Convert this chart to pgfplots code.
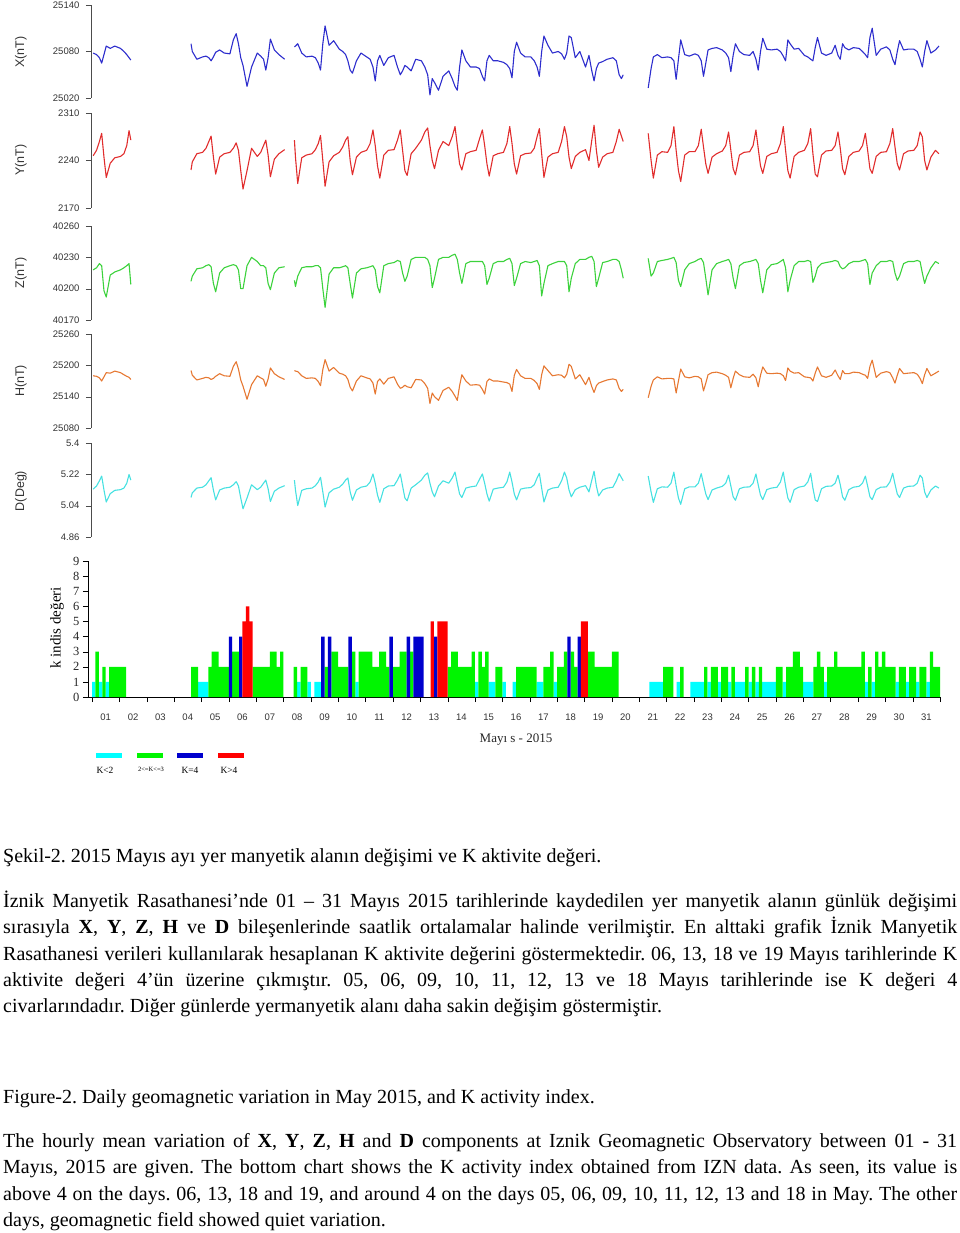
\documentclass[border=0pt]{standalone}
\usepackage{fontspec}
\setmainfont{Liberation Serif}
\newfontfamily\arial{Liberation Sans}
\usepackage{pgfplots}
\usepackage{pgfplotstable}
\pgfplotsset{compat=1.18}
\frenchspacing

\definecolor{xcol}{RGB}{45,45,205}
\definecolor{ycol}{RGB}{225,45,45}
\definecolor{zcol}{RGB}{60,210,60}
\definecolor{hcol}{RGB}{230,120,50}
\definecolor{dcol}{RGB}{70,225,225}
\definecolor{kcyan}{RGB}{0,255,255}
\definecolor{kgreen}{RGB}{0,245,0}
\definecolor{kblue}{RGB}{0,0,205}
\definecolor{kred}{RGB}{255,0,0}

% hourly means, sampled at a few hours per day (t in days from 1 May 00 UT)
\pgfplotstableread{
t X Y Z H D
0.042 25078 2247 40218 25180 5.135
0.167 25076 2255 40220 25179 5.153
0.271 25072 2268 40224 25176 5.183
0.354 25065 2280 40222 25170 5.210
0.438 25076 2245 40198 25178 5.130
0.521 25087 2215 40192 25186 5.061
0.667 25084 2236 40213 25185 5.109
0.833 25087 2244 40216 25189 5.128
1.042 25084 2246 40218 25186 5.132
1.167 25080 2250 40220 25182 5.141
1.271 25076 2262 40222 25179 5.169
1.354 25072 2284 40224 25177 5.219
1.420 25069 2270 40204 25173 5.187
2.000 nan nan nan nan nan
3.620 25090 2226 40207 25190 5.087
3.667 25080 2238 40212 25181 5.114
3.833 25070 2250 40219 25172 5.141
4.042 25073 2252 40220 25175 5.146
4.167 25074 2258 40222 25177 5.160
4.271 25072 2268 40223 25176 5.183
4.354 25068 2276 40221 25173 5.201
4.438 25073 2245 40205 25175 5.130
4.521 25079 2220 40197 25179 5.073
4.667 25082 2245 40215 25184 5.130
4.833 25078 2250 40220 25180 5.141
5.042 25077 2252 40222 25179 5.146
5.167 25095 2258 40223 25198 5.160
5.271 25103 2266 40222 25207 5.178
5.354 25090 2255 40218 25193 5.153
5.438 25072 2225 40200 25172 5.084
5.521 25062 2198 40200 25160 5.022
5.667 25035 2225 40222 25135 5.084
5.833 25060 2258 40230 25163 5.160
6.042 25078 2246 40226 25180 5.132
6.167 25074 2252 40222 25176 5.146
6.271 25070 2262 40222 25173 5.169
6.354 25056 2270 40220 25160 5.187
6.438 25072 2248 40205 25174 5.137
6.521 25096 2216 40199 25195 5.064
6.667 25082 2242 40215 25184 5.123
6.833 25076 2250 40220 25178 5.141
7.042 25070 2256 40221 25173 5.155
7.200 nan nan nan nan nan
7.400 25086 2270 40208 25190 5.187
7.438 25087 2245 40202 25189 5.130
7.521 25090 2206 40212 25188 5.041
7.667 25078 2244 40220 25180 5.128
7.833 25073 2248 40221 25175 5.137
8.042 25074 2250 40221 25176 5.141
8.167 25072 2256 40222 25175 5.155
8.271 25065 2265 40222 25169 5.176
8.354 25056 2277 40220 25161 5.203
8.438 25090 2240 40200 25192 5.119
8.521 25113 2202 40182 25211 5.032
8.667 25088 2238 40214 25189 5.114
8.833 25094 2247 40220 25196 5.135
9.042 25083 2252 40220 25185 5.146
9.167 25080 2260 40221 25183 5.164
9.271 25076 2270 40222 25180 5.187
9.354 25068 2275 40220 25173 5.199
9.438 25056 2240 40205 25158 5.119
9.521 25052 2219 40191 25151 5.071
9.667 25068 2245 40215 25170 5.130
9.833 25078 2252 40219 25180 5.146
10.042 25073 2255 40220 25176 5.153
10.167 25070 2265 40221 25174 5.176
10.271 25060 2285 40222 25166 5.222
10.354 25042 2262 40218 25145 5.169
10.438 25068 2232 40202 25169 5.100
10.521 25075 2214 40196 25174 5.059
10.667 25062 2248 40222 25164 5.137
10.833 25072 2255 40224 25175 5.153
11.042 25075 2256 40225 25178 5.155
11.167 25060 2270 40227 25164 5.187
11.271 25050 2285 40226 25156 5.222
11.354 25055 2255 40215 25158 5.153
11.438 25062 2225 40207 25162 5.084
11.521 25060 2218 40212 25159 5.068
11.667 25055 2250 40228 25157 5.141
11.833 25070 2258 40230 25173 5.160
12.042 25068 2270 40230 25172 5.187
12.167 25060 2282 40230 25165 5.215
12.271 25050 2288 40228 25156 5.228
12.354 25024 2262 40222 25127 5.169
12.438 25045 2240 40201 25147 5.119
12.521 25040 2228 40210 25140 5.091
12.667 25030 2255 40228 25133 5.153
12.833 25048 2268 40230 25152 5.183
13.042 25055 2262 40230 25158 5.169
13.167 25045 2275 40232 25150 5.199
13.271 25035 2290 40233 25141 5.233
13.354 25030 2262 40228 25133 5.169
13.438 25060 2235 40215 25161 5.107
13.521 25082 2226 40205 25182 5.087
13.667 25068 2250 40224 25170 5.141
13.833 25060 2253 40226 25162 5.148
14.042 25060 2255 40226 25163 5.153
14.167 25058 2272 40226 25162 5.192
14.271 25048 2285 40226 25154 5.222
14.354 25042 2262 40222 25145 5.169
14.438 25068 2235 40204 25169 5.107
14.521 25075 2217 40210 25174 5.066
14.667 25068 2247 40224 25170 5.135
14.833 25068 2250 40226 25170 5.141
15.042 25066 2252 40226 25168 5.146
15.167 25063 2265 40228 25167 5.176
15.271 25058 2290 40229 25164 5.233
15.354 25046 2265 40224 25150 5.176
15.438 25080 2235 40203 25181 5.107
15.521 25092 2220 40210 25192 5.073
15.667 25078 2247 40224 25180 5.135
15.833 25073 2250 40226 25175 5.141
16.042 25073 2251 40225 25175 5.144
16.167 25068 2258 40226 25171 5.160
16.271 25060 2275 40227 25165 5.199
16.354 25048 2287 40222 25154 5.226
16.438 25080 2250 40193 25182 5.141
16.521 25100 2215 40205 25199 5.061
16.667 25088 2245 40222 25190 5.130
16.833 25078 2250 40224 25180 5.141
17.042 25080 2252 40226 25182 5.146
17.167 25077 2268 40226 25181 5.183
17.271 25070 2290 40226 25176 5.233
17.354 25078 2275 40222 25183 5.199
17.438 25100 2245 40197 25202 5.130
17.521 25098 2228 40210 25198 5.091
17.667 25072 2246 40224 25174 5.132
17.833 25080 2252 40228 25182 5.146
18.042 25060 2256 40228 25163 5.155
18.167 25075 2240 40230 25177 5.119
18.271 25055 2270 40231 25159 5.187
18.354 25042 2292 40226 25148 5.238
18.438 25058 2255 40202 25161 5.153
18.521 25065 2230 40210 25166 5.096
18.667 25067 2245 40225 25169 5.130
18.833 25070 2250 40226 25172 5.141
19.042 25072 2252 40228 25174 5.146
19.167 25068 2268 40228 25172 5.183
19.271 25050 2286 40226 25156 5.224
19.354 25045 2276 40218 25150 5.201
19.420 25050 2268 40210 25154 5.183
20.000 nan nan nan nan nan
20.333 25033 2280 40229 25138 5.210
20.438 25058 2240 40212 25160 5.119
20.521 25073 2214 40215 25172 5.059
20.667 25076 2248 40226 25178 5.137
20.833 25072 2253 40227 25174 5.148
21.042 25073 2252 40228 25175 5.146
21.167 25072 2262 40229 25175 5.169
21.271 25068 2290 40230 25174 5.233
21.354 25044 2255 40225 25147 5.153
21.438 25070 2225 40208 25170 5.084
21.521 25095 2209 40202 25193 5.048
21.667 25076 2248 40218 25178 5.137
21.833 25074 2253 40224 25176 5.148
22.042 25077 2253 40226 25179 5.148
22.167 25075 2262 40228 25178 5.169
22.271 25068 2286 40229 25174 5.224
22.354 25048 2260 40225 25151 5.164
22.438 25065 2235 40210 25166 5.107
22.521 25082 2221 40194 25182 5.075
22.667 25084 2245 40218 25186 5.130
22.833 25085 2250 40224 25187 5.141
23.042 25082 2254 40226 25184 5.151
23.167 25078 2262 40227 25181 5.169
23.271 25072 2282 40228 25177 5.215
23.354 25054 2255 40224 25157 5.153
23.438 25075 2228 40210 25175 5.091
23.521 25090 2219 40200 25189 5.071
23.667 25080 2248 40222 25182 5.137
23.833 25076 2252 40225 25178 5.146
24.042 25075 2253 40226 25177 5.148
24.167 25080 2262 40227 25183 5.169
24.271 25070 2285 40228 25176 5.222
24.354 25056 2258 40224 25159 5.160
24.438 25080 2232 40208 25181 5.100
24.521 25097 2221 40196 25197 5.075
24.667 25083 2246 40218 25185 5.132
24.833 25082 2250 40223 25184 5.141
25.042 25083 2252 40224 25185 5.146
25.167 25080 2265 40226 25184 5.176
25.271 25074 2290 40228 25180 5.233
25.354 25068 2255 40220 25171 5.153
25.438 25095 2225 40197 25195 5.084
25.521 25090 2214 40208 25189 5.059
25.667 25083 2246 40222 25185 5.132
25.833 25084 2252 40226 25186 5.146
26.042 25075 2255 40226 25178 5.153
26.167 25073 2265 40227 25177 5.176
26.271 25070 2287 40226 25176 5.226
26.354 25068 2250 40206 25170 5.141
26.438 25085 2220 40212 25185 5.073
26.521 25098 2216 40220 25197 5.064
26.667 25078 2248 40224 25180 5.137
26.833 25075 2254 40225 25177 5.151
27.042 25078 2255 40226 25181 5.153
27.167 25088 2262 40227 25191 5.169
27.271 25075 2282 40226 25180 5.215
27.354 25070 2258 40221 25173 5.160
27.438 25090 2228 40219 25190 5.091
27.521 25085 2219 40220 25184 5.071
27.667 25082 2246 40224 25184 5.132
27.833 25085 2252 40226 25187 5.146
28.042 25084 2254 40226 25186 5.151
28.167 25080 2262 40227 25183 5.169
28.271 25076 2280 40228 25181 5.210
28.354 25072 2255 40224 25175 5.153
28.438 25098 2228 40204 25198 5.091
28.521 25110 2221 40215 25210 5.075
28.667 25075 2246 40222 25177 5.132
28.833 25083 2252 40226 25185 5.146
29.042 25086 2253 40226 25188 5.148
29.167 25082 2265 40227 25186 5.176
29.271 25070 2287 40226 25176 5.226
29.354 25063 2260 40215 25166 5.164
29.438 25080 2235 40208 25181 5.107
29.521 25094 2226 40212 25194 5.087
29.667 25082 2250 40224 25184 5.141
29.833 25083 2254 40226 25185 5.151
30.042 25083 2255 40226 25186 5.153
30.167 25080 2262 40227 25183 5.169
30.271 25070 2282 40226 25175 5.215
30.354 25060 2275 40215 25165 5.199
30.438 25080 2240 40205 25182 5.119
30.521 25094 2226 40212 25194 5.087
30.667 25078 2245 40220 25180 5.130
30.833 25082 2255 40226 25185 5.153
30.960 25087 2250 40224 25189 5.141
}\magdata

\pgfplotsset{
  magpanel/.style={
    scale only axis, width=849.1pt, xmin=-0.04, xmax=31,
    anchor=south west,
    axis x line=none, axis y line*=left,
    axis line style={-, black!70},
    tick align=outside, major tick length=5pt,
    ytick style={black!70},
    scaled y ticks=false,
    yticklabel style={font=\arial\fontsize{9.5}{9.5}\selectfont, text=black!80, xshift=-3pt},
    unbounded coords=jump, clip=false,
  },
  magline/.style={line width=1.1pt, line join=round},
}
\newcommand\bodyfont{\fontsize{20}{24}\selectfont}
\newcommand\panellabel{\arial\fontsize{12.5}{12.5}\selectfont}

\begin{document}
\begin{tikzpicture}[x=1pt,y=1pt]
\path[use as bounding box] (0,0) rectangle (960,-1233);

% X
\begin{axis}[magpanel, height=93pt, at={(90.9pt,-98pt)},
  ymin=25020, ymax=25140, ytick={25020,25080,25140}, yticklabels={25020,25080,25140}]
\addplot[magline, xcol] table[x=t, y=X] {\magdata};
\end{axis}
% Y
\begin{axis}[magpanel, height=95pt, at={(90.9pt,-208pt)},
  ymin=2170, ymax=2310, ytick={2170,2240,2310}, yticklabels={2170,2240,2310}]
\addplot[magline, ycol] table[x=t, y=Y] {\magdata};
\end{axis}
% Z
\begin{axis}[magpanel, height=94pt, at={(90.9pt,-320pt)},
  ymin=40170, ymax=40260, ytick={40170,40200,40230,40260}, yticklabels={40170,40200,40230,40260}]
\addplot[magline, zcol] table[x=t, y=Z] {\magdata};
\end{axis}
% H
\begin{axis}[magpanel, height=94pt, at={(90.9pt,-428pt)},
  ymin=25080, ymax=25260, ytick={25080,25140,25200,25260}, yticklabels={25080,25140,25200,25260}]
\addplot[magline, hcol] table[x=t, y=H] {\magdata};
\end{axis}
% D
\begin{axis}[magpanel, height=94pt, at={(90.9pt,-537pt)},
  ymin=4.86, ymax=5.4, ytick={4.86,5.04,5.22,5.4}, yticklabels={4.86,5.04,5.22,5.4}]
\addplot[magline, dcol] table[x=t, y=D] {\magdata};
\end{axis}

\node[rotate=90, font=\panellabel, text=black!80] at (21,-52) {X(nT)};
\node[rotate=90, font=\panellabel, text=black!80] at (21,-160) {Y(nT)};
\node[rotate=90, font=\panellabel, text=black!80] at (21,-273) {Z(nT)};
\node[rotate=90, font=\panellabel, text=black!80] at (21,-381) {H(nT)};
\node[rotate=90, font=\panellabel, text=black!80] at (21,-491) {D(Deg)};

% K index, 8 three-hour bars per day (x = bar number)
\begin{axis}[
  scale only axis, width=852.1pt, height=136pt, at={(87.9pt,-697pt)}, anchor=south west,
  xmin=-1.2, xmax=248, ymin=0, ymax=9,
  axis x line*=bottom, axis y line*=left, axis line style={-, black},
  ybar, bar width=1, bar shift=0pt,
  tick align=outside, major tick length=5pt, tick style={black},
  ytick={0,...,9}, yticklabels={0,1,2,3,4,5,6,7,8,9},
  yticklabel style={font=\fontsize{12.5}{12.5}\selectfont, text=black!85},
  xtick={0,8,...,240},
  xticklabels={01,02,03,04,05,06,07,08,09,10,11,12,13,14,15,16,17,18,19,20,21,22,23,24,25,26,27,28,29,30,31},
  xticklabel style={font=\arial\fontsize{9.5}{9.5}\selectfont, text=black!80, xshift=13.7pt, yshift=-8pt},
  extra x ticks={248}, extra x tick labels={},
  clip=false,
]
\addplot[fill=kcyan, draw=none] coordinates {
(0.5,1) (2.5,1) (4.5,1) (31.5,1) (32.5,1) (33.5,1) (60.5,1) (63.5,1) (65.5,1) (66.5,1)
(77.5,1) (112.5,1) (116.5,1) (117.5,1) (120.5,1) (123.5,1) (130.5,1) (131.5,1) (135.5,1)
(163.5,1) (164.5,1) (165.5,1) (166.5,1) (171.5,1) (175.5,1) (176.5,1) (177.5,1) (178.5,1)
(180.5,1) (183.5,1) (186.5,1) (188.5,1) (189.5,1) (190.5,1) (192.5,1) (194.5,1) (196.5,1)
(197.5,1) (198.5,1) (199.5,1) (202.5,1) (208.5,1) (209.5,1) (210.5,1) (214.5,1) (226.5,1)
(228.5,1) (235.5,1) (238.5,1) (241.5,1) (244.5,1)
};
\addplot[fill=kgreen, draw=none] coordinates {
(1.5,3) (3.5,2) (5.5,2) (6.5,2) (7.5,2) (8.5,2) (9.5,2)
(29.5,2) (30.5,2) (34.5,2) (35.5,3) (36.5,3) (37.5,2) (38.5,2) (39.5,2)
(41.5,3) (42.5,3) (47.5,2) (48.5,2) (49.5,2) (50.5,2) (51.5,2) (52.5,3) (53.5,3) (54.5,2) (55.5,3)
(59.5,2) (61.5,2) (62.5,2) (68.5,2) (70.5,3) (71.5,3) (72.5,2) (73.5,2) (74.5,2) (76.5,3)
(78.5,3) (79.5,3) (80.5,3) (81.5,3) (82.5,2) (83.5,2) (84.5,3) (85.5,3) (86.5,2) (88.5,2)
(89.5,2) (90.5,3) (91.5,3) (93.5,3)
(104.5,2) (105.5,3) (106.5,3) (107.5,2) (108.5,2) (109.5,2) (110.5,2) (111.5,3) (113.5,3)
(114.5,2) (115.5,3) (118.5,2) (119.5,2) (124.5,2) (125.5,2) (126.5,2) (127.5,2) (128.5,2)
(129.5,2) (132.5,2) (133.5,2) (134.5,3) (136.5,2) (137.5,2) (138.5,3) (140.5,3) (141.5,2)
(145.5,3) (146.5,3) (147.5,2) (148.5,2) (149.5,2) (150.5,2) (151.5,2) (152.5,3) (153.5,3)
(167.5,2) (168.5,2) (169.5,2) (172.5,2) (179.5,2) (181.5,2) (182.5,2) (184.5,2) (185.5,2)
(187.5,2) (191.5,2) (193.5,2) (195.5,2) (200.5,2) (201.5,2) (203.5,2) (204.5,2) (205.5,3)
(206.5,3) (207.5,2) (211.5,2) (212.5,3) (213.5,2) (215.5,2) (216.5,2) (217.5,3) (218.5,2)
(219.5,2) (220.5,2) (221.5,2) (222.5,2) (223.5,2) (224.5,2) (225.5,3) (227.5,2) (229.5,3)
(230.5,2) (231.5,3) (232.5,2) (233.5,2) (234.5,2) (236.5,2) (237.5,2) (239.5,2) (240.5,2)
(242.5,2) (243.5,2) (245.5,3) (246.5,2) (247.5,2)
};
\addplot[fill=kblue, draw=none] coordinates {
(40.5,4) (43.5,4) (67.5,4) (69.5,4) (75.5,4) (87.5,4) (92.5,4) (94.5,4) (95.5,4) (96.5,4)
(100.5,4) (139.5,4) (142.5,4)
};
\addplot[fill=kred, draw=none] coordinates {
(44.5,5) (45.5,6) (46.5,5) (99.5,5) (101.5,5) (102.5,5) (103.5,5) (143.5,5) (144.5,5)
};
\end{axis}

\node[rotate=90, font=\fontsize{15}{15}\selectfont] at (57,-628) {k indis değeri};
\node[font=\fontsize{13}{13}\selectfont, text=black!85] at (516,-740) {Mayı s - 2015};

% legend keys
\fill[kcyan]  (95.7,-753.3) rectangle (121.7,-758.3);
\fill[kgreen] (136.7,-753.3) rectangle (163.3,-758.3);
\fill[kblue]  (176.7,-753.3) rectangle (203.3,-758.3);
\fill[kred]   (217.7,-753.3) rectangle (244.3,-758.3);
\node[font=\fontsize{9.5}{9.5}\selectfont] at (105,-770) {K<2};
\node[font=\fontsize{6.5}{6.5}\selectfont] at (151,-769) {2<=K<=3};
\node[font=\fontsize{9.5}{9.5}\selectfont] at (190,-770) {K=4};
\node[font=\fontsize{9.5}{9.5}\selectfont] at (229,-770) {K>4};

% caption and text
\begin{scope}[every node/.style={anchor=base west, inner sep=0pt, font=\bodyfont}]
\node at (3,-862) {Şekil-2. 2015 Mayıs ayı yer manyetik alanın değişimi ve K aktivite değeri.};
\node at (3,-907) {\makebox[954pt][s]{İznik Manyetik Rasathanesi’nde 01 – 31 Mayıs 2015 tarihlerinde kaydedilen yer manyetik alanın günlük değişimi}};
\node at (3,-933) {\makebox[954pt][s]{sırasıyla \textbf{X}, \textbf{Y}, \textbf{Z}, \textbf{H} ve \textbf{D} bileşenlerinde saatlik ortalamalar halinde verilmiştir. En alttaki grafik İznik Manyetik}};
\node at (3,-960) {\makebox[954pt][s]{Rasathanesi verileri kullanılarak hesaplanan K aktivite değerini göstermektedir. 06, 13, 18 ve 19 Mayıs tarihlerinde K}};
\node at (3,-986) {\makebox[954pt][s]{aktivite değeri 4’ün üzerine çıkmıştır. 05, 06, 09, 10, 11, 12, 13 ve 18 Mayıs tarihlerinde ise K değeri 4}};
\node at (3,-1012) {civarlarındadır. Diğer günlerde yermanyetik alanı daha sakin değişim göstermiştir.};
\node at (3,-1103) {Figure-2. Daily geomagnetic variation in May 2015, and K activity index.};
\node at (3,-1147) {\makebox[954pt][s]{The hourly mean variation of \textbf{X}, \textbf{Y}, \textbf{Z}, \textbf{H} and \textbf{D} components at Iznik Geomagnetic Observatory between 01 - 31}};
\node at (3,-1173) {\makebox[954pt][s]{Mayıs, 2015 are given. The bottom chart shows the K activity index obtained from IZN data. As seen, its value is}};
\node at (3,-1200) {\makebox[954pt][s]{above 4 on the days. 06, 13, 18 and 19, and around 4 on the days 05, 06, 09, 10, 11, 12, 13 and 18 in May. The other}};
\node at (3,-1226) {days, geomagnetic field showed quiet variation.};
\end{scope}
\end{tikzpicture}
\end{document}
